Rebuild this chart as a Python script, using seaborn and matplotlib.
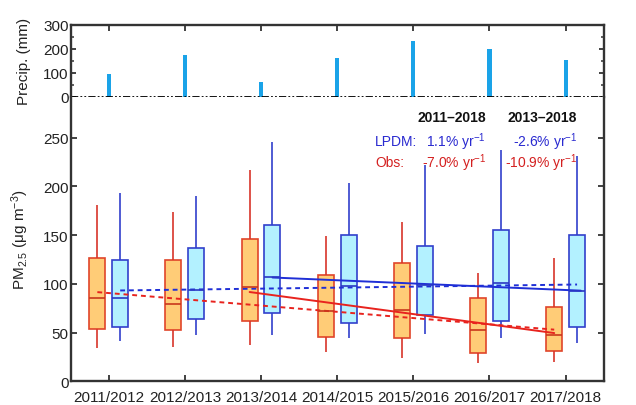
import numpy as np
import pandas as pd
import matplotlib
matplotlib.use("Agg")
import matplotlib.pyplot as plt
from matplotlib.ticker import MultipleLocator
import seaborn as sns

# Winter seasons
seasons = ["2011/2012", "2012/2013", "2013/2014", "2014/2015",
           "2015/2016", "2016/2017", "2017/2018"]

# Seasonal precipitation (mm)
precip = [95, 172, 63, 160, 232, 199, 155]

# PM2.5 box summaries per season: min, Q1, median, Q3, max (ug m-3)
obs_low = [34, 35, 37, 30, 24, 19, 20]
obs_q1 = [54, 52.5, 62, 45, 44, 29, 31]
obs_med = [85, 79, 97, 72, 73, 53, 48]
obs_q3 = [126, 124, 146, 109, 121, 85, 76]
obs_high = [181, 174, 217, 149, 163, 111, 127]

lpdm_low = [41, 47, 48, 44, 49, 44, 39]
lpdm_q1 = [56, 64, 70, 60, 68, 62, 56]
lpdm_med = [85, 94, 107, 98, 99, 101, 93]
lpdm_q3 = [124, 137, 160, 150, 139, 155, 150]
lpdm_high = [193, 190, 246, 203, 222, 237, 231]

# Linear trends (start/end positions and values)
obs_trend_all_x = [-0.15, 5.85]
obs_trend_all_y = [91.5, 53.0]
lpdm_trend_all_x = [0.15, 6.15]
lpdm_trend_all_y = [93.2, 99.3]
obs_trend_recent_x = [1.85, 5.85]
obs_trend_recent_y = [91.6, 49.5]
lpdm_trend_recent_x = [2.15, 6.2]
lpdm_trend_recent_y = [106.5, 93.0]

trend_labels = ["2011\u20132018", "2013\u20132018"]
lpdm_trend_text = ["1.1% yr$^{-1}$", "-2.6% yr$^{-1}$"]
obs_trend_text = ["-7.0% yr$^{-1}$", "-10.9% yr$^{-1}$"]

sns.set_theme(style="ticks")
plt.rcParams["font.family"] = ["Liberation Sans", "DejaVu Sans"]
plt.rcParams["mathtext.fontset"] = "custom"
plt.rcParams["mathtext.rm"] = "Liberation Sans"
plt.rcParams["mathtext.it"] = "Liberation Sans:italic"

# five-number samples reproduce the quartiles exactly with linear percentiles
rows = []
for i, s in enumerate(seasons):
    for src, vals in (("Obs", (obs_low, obs_q1, obs_med, obs_q3, obs_high)),
                      ("LPDM", (lpdm_low, lpdm_q1, lpdm_med, lpdm_q3, lpdm_high))):
        for v in vals:
            rows.append({"season": s, "source": src, "pm": v[i]})
pm = pd.DataFrame(rows)
rain = pd.DataFrame({"season": seasons, "precip": precip})

fig = plt.figure(figsize=(6.36, 4.06), dpi=100)
x0, x1 = 70.7, 603.7          # frame edges (px)
y_top, y_mid, y_bot = 25.7, 97.7, 382.3
ax_top = fig.add_axes([x0 / 636, 1 - y_mid / 406, (x1 - x0) / 636, (y_mid - y_top) / 406])
ax = fig.add_axes([x0 / 636, 1 - y_bot / 406, (x1 - x0) / 636, (y_bot - y_mid) / 406])

spine_c = "#333333"
spine_w = 1.7
tick_w = 1.3
tick_fs = 11

# --- precipitation panel ---
sns.barplot(data=rain, x="season", y="precip", ax=ax_top, color="#1aa3e8",
            width=0.055, saturation=1, edgecolor="none")
ax_top.axhline(0, color="black", lw=1.3, clip_on=False,
               linestyle=(0, (4, 1.2, 1, 1.2, 1, 1.2)), zorder=5)
ax_top.set_xlim(-0.5, 6.5)
ax_top.set_ylim(0, 300)
ax_top.set_yticks([0, 100, 200, 300])
ax_top.yaxis.set_minor_locator(MultipleLocator(50))
ax_top.spines["bottom"].set_visible(False)
ax_top.tick_params(axis="x", which="both", direction="in", top=True, bottom=False,
                   labelbottom=False, length=4, width=tick_w, color=spine_c)
ax_top.tick_params(axis="y", which="major", direction="in", left=True, right=True,
                   length=3.5, width=tick_w, color=spine_c, labelsize=tick_fs,
                   pad=1.5, labelcolor="#222222")
ax_top.tick_params(axis="y", which="minor", direction="in", left=True, right=True,
                   length=2.5, width=1.1, color=spine_c)
ax_top.set_xlabel("")
ax_top.set_ylabel("Precip. (mm)", fontsize=11, color="#222222")
ax_top.yaxis.set_label_coords(-0.074, 0.5)

# --- PM2.5 panel ---
sns.boxplot(data=pm, x="season", y="pm", hue="source", hue_order=["Obs", "LPDM"],
            palette={"Obs": "#ffcc77", "LPDM": "#b3f1ff"}, saturation=1,
            width=0.6, gap=0.3, whis=(0, 100), showcaps=False, showfliers=False,
            linewidth=1.2, legend=False, ax=ax)

edge_cols = ["#e0452a", "#3140cc"]
whisk_cols = ["#d8352a", "#3140cc"]
med_cols = ["#c8381c", "#2a38c4"]
for cont, ec, wc, mc in zip(ax.containers, edge_cols, whisk_cols, med_cols):
    for b in cont.boxes:
        b.set_edgecolor(ec)
    for w in cont.whiskers:
        w.set_color(wc)
    for m in cont.medians:
        m.set_color(mc)

red_tr, blue_tr = "#e8231e", "#1f2fd6"
sns.lineplot(x=obs_trend_all_x, y=obs_trend_all_y, ax=ax, color=red_tr, lw=1.4,
             linestyle=(0, (2.5, 2)))
sns.lineplot(x=lpdm_trend_all_x, y=lpdm_trend_all_y, ax=ax, color=blue_tr, lw=1.4,
             linestyle=(0, (2.5, 2)))
sns.lineplot(x=obs_trend_recent_x, y=obs_trend_recent_y, ax=ax, color=red_tr, lw=1.4)
sns.lineplot(x=lpdm_trend_recent_x, y=lpdm_trend_recent_y, ax=ax, color=blue_tr, lw=1.4)

ax.set_xlim(-0.5, 6.5)
ax.set_ylim(0, 292)
ax.set_yticks([0, 50, 100, 150, 200, 250])
ax.spines["top"].set_visible(False)
ax.tick_params(axis="x", direction="in", bottom=True, top=False, length=4,
               width=tick_w, color=spine_c, labelsize=tick_fs, pad=6,
               labelcolor="#222222")
ax.tick_params(axis="y", direction="in", left=True, right=True, length=4,
               width=tick_w, color=spine_c, labelsize=tick_fs, pad=1.5,
               labelcolor="#222222")
ax.set_xlabel("")
ax.set_ylabel(r"PM$_{2.5}$ ($\mathregular{\mu}$g m$^{-3}$)", fontsize=11,
              color="#222222")
ax.yaxis.set_label_coords(-0.074, 0.5)

# trend annotation table
def fx(px):
    return (px - x0) / (x1 - x0)

def fy(py):
    return (y_bot - py) / (y_bot - y_mid)

col_x = [fx(486), fx(577)]
for x, t in zip(col_x, trend_labels):
    ax.text(x, fy(118), t, transform=ax.transAxes, ha="right", va="center",
            fontsize=10, fontweight="bold", color="#111111")
ax.text(fx(375), fy(142), "LPDM:", transform=ax.transAxes, ha="left", va="center",
        fontsize=10, color="#2a2ad0")
ax.text(fx(375), fy(163), "Obs:", transform=ax.transAxes, ha="left", va="center",
        fontsize=10, color="#d42020")
for x, t in zip(col_x, lpdm_trend_text):
    ax.text(x, fy(142), t, transform=ax.transAxes, ha="right", va="center",
            fontsize=10, color="#2a2ad0")
for x, t in zip(col_x, obs_trend_text):
    ax.text(x, fy(163), t, transform=ax.transAxes, ha="right", va="center",
            fontsize=10, color="#d42020")

# axes frame: left/right spans both panels, top closes the precipitation panel
for a, sides in ((ax_top, ("left", "right", "top")), (ax, ("left", "right", "bottom"))):
    for sp in sides:
        a.spines[sp].set_visible(True)
        a.spines[sp].set_color(spine_c)
        a.spines[sp].set_linewidth(spine_w)
        a.spines[sp].set_zorder(10)

fig.savefig("out.png", dpi=100)
